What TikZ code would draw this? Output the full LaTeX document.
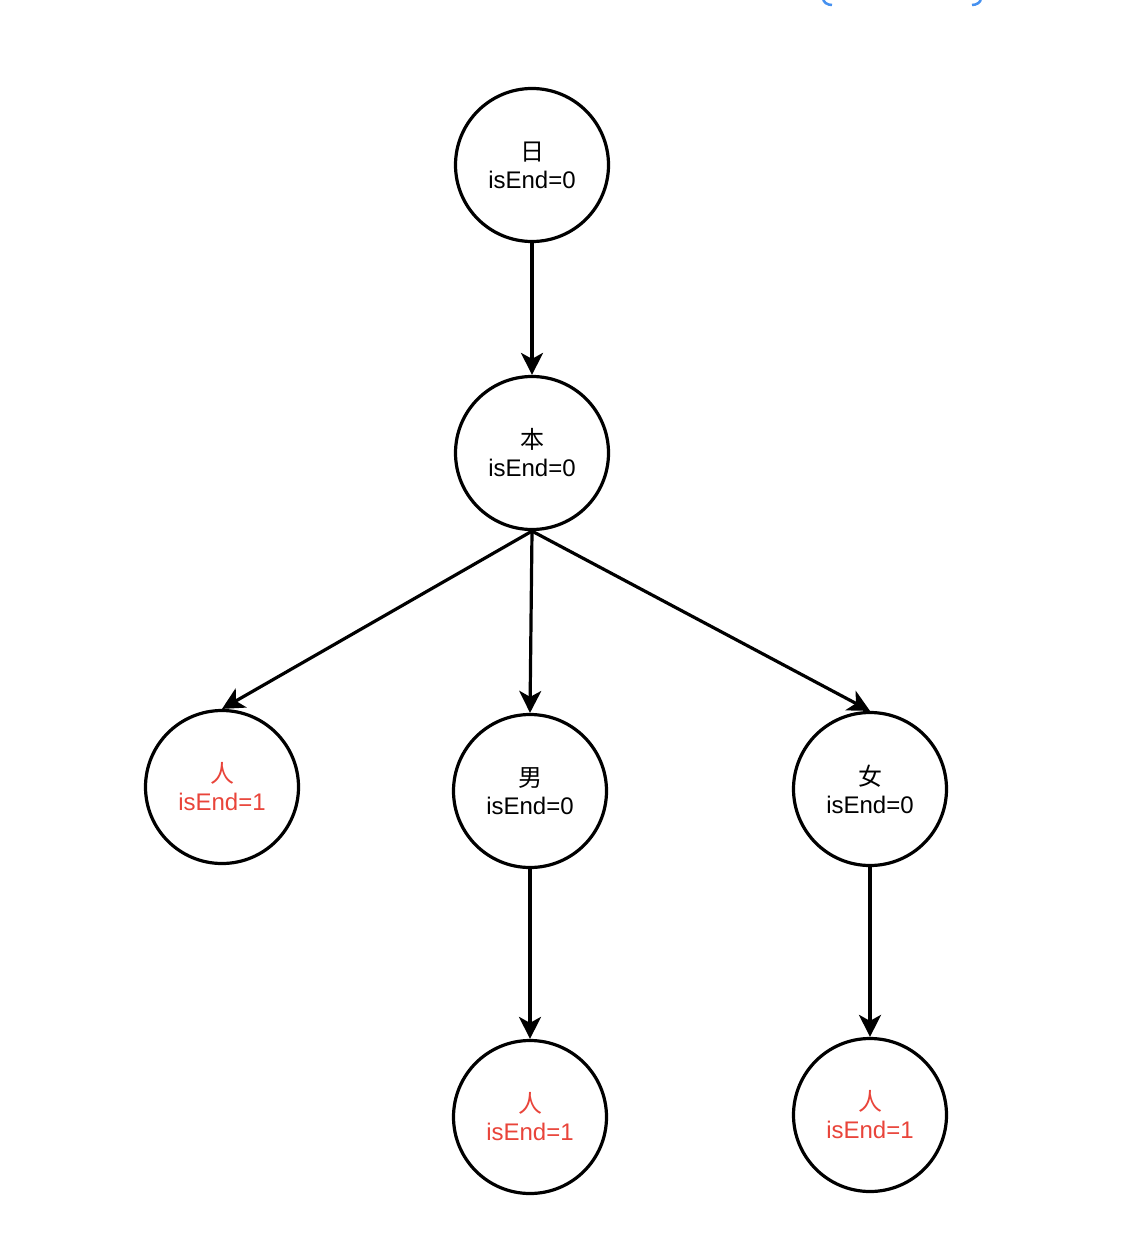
\documentclass[tikz,border=0pt]{standalone}
\usepackage{fontspec}
\setmainfont{Liberation Sans}
\newfontfamily\cjk{Noto Sans CJK SC}
\usetikzlibrary{arrows.meta}
\definecolor{endred}{RGB}{233,68,58}
\definecolor{topblue}{RGB}{70,145,240}
\begin{document}
\begin{tikzpicture}[x=1pt,y=-1pt,
  tnode/.style={circle,draw=black,line width=3.2pt,minimum size=153pt,inner sep=0pt,
    align=center,font=\fontsize{24}{28}\selectfont},
  endnode/.style={tnode,text=endred},
  edge/.style={line width=3.2pt,-{Stealth[length=22pt,width=22pt,inset=6pt]}}]
\useasboundingbox (0,0) rectangle (1134,1238);
\fill[white] (0,0) rectangle (1134,1238);
\draw[topblue,line width=2.5pt] (823,-2) to[out=-90,in=180] (832,5);
\draw[topblue,line width=2.5pt] (981,-2) to[out=-90,in=0] (972,5);
\node[tnode] (ri) at (532,165) {{\cjk 日}\\isEnd=0};
\node[tnode] (ben) at (532,453) {{\cjk 本}\\isEnd=0};
\node[endnode] (ren1) at (222,787) {{\cjk 人}\\isEnd=1};
\node[tnode] (nan) at (530,791) {{\cjk 男}\\isEnd=0};
\node[tnode] (nv) at (870,789) {{\cjk 女}\\isEnd=0};
\node[endnode] (ren2) at (530,1117) {{\cjk 人}\\isEnd=1};
\node[endnode] (ren3) at (870,1115) {{\cjk 人}\\isEnd=1};
\draw[edge] (ri.south) -- (ben.north);
\draw[edge] (ben.south) -- (ren1.north);
\draw[edge] (ben.south) -- (nan.north);
\draw[edge] (ben.south) -- (nv.north);
\draw[edge] (nan.south) -- (ren2.north);
\draw[edge] (nv.south) -- (ren3.north);
\end{tikzpicture}
\end{document}
